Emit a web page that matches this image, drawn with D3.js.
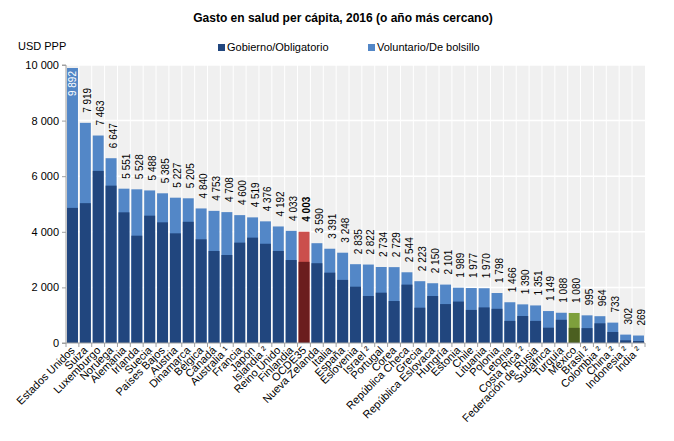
<!DOCTYPE html>
<html>
<head>
<meta charset="utf-8">
<script src="https://cdn.jsdelivr.net/npm/d3@7"></script>
<style>
  body { margin: 0; background: #fff; }
  text { font-family: "Liberation Sans", Arial, sans-serif; }
</style>
</head>
<body>
<script>
const WIDTH = 674
const HEIGHT = 441

const PAISES = [
    "Estados Unidos", "Suiza", "Luxemburgo", "Noruega", "Alemania", "Irlanda", "Suecia",
    "Países Bajos", "Austria", "Dinamarca", "Bélgica", "Canadá", "Australia ¹", "Francia",
    "Japón", "Islandia ²", "Reino Unido", "Finlandia", "OCDE35", "Nueva Zelanda", "Italia",
    "España", "Eslovenia", "Israel ²", "Portugal", "Corea", "República Checa", "Grecia",
    "República Eslovaca", "Hungría", "Estonia", "Chile", "Lituania", "Polonia", "Letonia",
    "Costa Rica ²", "Federación de Rusia", "Sudáfrica", "Turquía", "México", "Brasil ²",
    "Colombia ²", "China ²", "Indonesia ²", "India ²"
]

// total per capita
const TOTAL = [
    9892, 7919, 7463, 6647, 5551, 5528, 5488, 5385, 5227, 5205, 4840, 4753, 4708, 4600,
    4519, 4376, 4192, 4033, 4003, 3590, 3391, 3248, 2835, 2822, 2734, 2729, 2544, 2223,
    2150, 2101, 1989, 1977, 1970, 1798, 1466, 1390, 1351, 1149, 1088, 1080, 995, 964,
    733, 302, 269
]

// government / compulsory part
const GOBIERNO = [
    4860, 5030, 6190, 5660, 4700, 3860, 4580, 4340, 3945, 4360, 3730, 3310, 3165, 3610,
    3790, 3570, 3310, 2985, 2920, 2870, 2530, 2270, 2025, 1690, 1810, 1510, 2100, 1270,
    1690, 1400, 1490, 1190, 1280, 1230, 795, 971, 795, 550, 835, 545, 535, 708,
    396, 96, 72
]

const Y_TICKS = [0, 2000, 4000, 6000, 8000, 10000]

const SERIES = ["Gobierno/Obligatorio", "Voluntario/De bolsillo"]

const DARK = '#21467e'
const LIGHT = '#5387c7'
const COLORS = {
    "OCDE35": ['#6b1d1e', '#cb4f4c'],
    "México": ['#4b5f20', '#7ea03c']
}

const fmt = v => d3.format(',')(v).replace(/,/g, ' ')

const LEFT = 66
const RIGHT = 645
const TOP = 65
const BOTTOM = 343

const svg = d3.select('body')
    .append('svg')
    .attr('width', WIDTH)
    .attr('height', HEIGHT)

const xScale = d3.scaleBand()
    .domain(PAISES)
    .range([LEFT, RIGHT])
    .paddingInner(0.15)
    .paddingOuter(0.08)

const yScale = d3.scaleLinear()
    .domain([0, 10000])
    .range([BOTTOM, TOP])

// plot background
svg.append('rect')
    .attr('x', LEFT)
    .attr('y', TOP)
    .attr('width', RIGHT - LEFT)
    .attr('height', BOTTOM - TOP)
    .attr('fill', '#f0f0f0')

const step = xScale.step()
const bounds = PAISES.map((p, i) => LEFT + i * step).concat([RIGHT])

svg.append('g')
    .selectAll('line')
    .data(bounds.slice(1, -1))
    .enter()
    .append('line')
    .attr('x1', d => d)
    .attr('x2', d => d)
    .attr('y1', TOP)
    .attr('y2', BOTTOM)
    .attr('stroke', '#fff')
    .attr('stroke-width', 1)

svg.append('g')
    .selectAll('line')
    .data(Y_TICKS.slice(1))
    .enter()
    .append('line')
    .attr('x1', LEFT)
    .attr('x2', RIGHT)
    .attr('y1', d => yScale(d))
    .attr('y2', d => yScale(d))
    .attr('stroke', '#fff')
    .attr('stroke-width', 1.5)

// bars
const bars = svg.append('g')

bars.selectAll('rect.total')
    .data(PAISES)
    .enter()
    .append('rect')
    .attr('class', 'total')
    .attr('x', d => xScale(d))
    .attr('width', xScale.bandwidth())
    .attr('y', (d, i) => yScale(TOTAL[i]))
    .attr('height', (d, i) => BOTTOM - yScale(TOTAL[i]))
    .attr('fill', d => COLORS[d] ? COLORS[d][1] : LIGHT)

bars.selectAll('rect.gob')
    .data(PAISES)
    .enter()
    .append('rect')
    .attr('class', 'gob')
    .attr('x', d => xScale(d))
    .attr('width', xScale.bandwidth())
    .attr('y', (d, i) => yScale(GOBIERNO[i]))
    .attr('height', (d, i) => BOTTOM - yScale(GOBIERNO[i]))
    .attr('fill', d => COLORS[d] ? COLORS[d][0] : DARK)

// value labels
svg.append('g')
    .selectAll('text')
    .data(PAISES)
    .enter()
    .append('text')
    .text((d, i) => fmt(TOTAL[i]))
    .attr('transform', (d, i) => {
        const c = xScale(d) + xScale.bandwidth() / 2
        const x = i === 0 ? c + 3.5 : c + 6
        const y = i === 0 ? yScale(TOTAL[i]) + 3 : yScale(TOTAL[i]) - 10
        return `translate(${x},${y}) rotate(-90)`
    })
    .attr('text-anchor', (d, i) => i === 0 ? 'end' : 'start')
    .attr('font-size', 10)
    .attr('font-weight', d => d === 'OCDE35' ? 'bold' : 'normal')
    .attr('fill', (d, i) => i === 0 ? '#fff' : '#000')

// y axis
const yAxis = d3.axisLeft(yScale)
    .tickValues(Y_TICKS)
    .tickSize(4)
    .tickFormat(fmt)

const gY = svg.append('g')
    .attr('transform', `translate(${LEFT},0)`)
    .call(yAxis)
gY.select('.domain').attr('stroke', '#a0a0a0').attr('d', `M-4,${TOP}H0V${BOTTOM}H-4`)
gY.selectAll('.tick line').attr('stroke', '#a0a0a0')
gY.selectAll('.tick text')
    .attr('font-size', 11)
    .attr('font-family', '"Liberation Sans", Arial, sans-serif')
    .attr('fill', '#000')
    .attr('x', -7)

// x axis
svg.append('line')
    .attr('x1', LEFT)
    .attr('x2', RIGHT)
    .attr('y1', BOTTOM)
    .attr('y2', BOTTOM)
    .attr('stroke', '#a0a0a0')

svg.append('g')
    .selectAll('line')
    .data(bounds)
    .enter()
    .append('line')
    .attr('x1', d => d)
    .attr('x2', d => d)
    .attr('y1', BOTTOM)
    .attr('y2', BOTTOM + 4)
    .attr('stroke', '#a0a0a0')

svg.append('g')
    .selectAll('text')
    .data(PAISES)
    .enter()
    .append('text')
    .text(d => d)
    .attr('transform', d => `translate(${xScale(d) + xScale.bandwidth() / 2 + 3},${BOTTOM + 8}) rotate(-45)`)
    .attr('text-anchor', 'end')
    .attr('font-size', 11)
    .attr('fill', '#000')

// title and unit
svg.append('text')
    .text('Gasto en salud per cápita, 2016 (o año más cercano)')
    .attr('x', 343)
    .attr('y', 22)
    .attr('text-anchor', 'middle')
    .attr('font-size', 12)
    .attr('font-weight', 'bold')

svg.append('text')
    .text('USD PPP')
    .attr('x', 18)
    .attr('y', 50)
    .attr('font-size', 11)

// legend
const legend = svg.append('g')
    .selectAll('g')
    .data(SERIES)
    .enter()
    .append('g')
    .attr('transform', (d, i) => `translate(${i === 0 ? 218 : 368},51)`)

legend.append('rect')
    .attr('x', 0)
    .attr('y', -7)
    .attr('width', 7)
    .attr('height', 7)
    .attr('fill', (d, i) => i === 0 ? DARK : LIGHT)

legend.append('text')
    .text(d => d)
    .attr('x', 9)
    .attr('y', 0)
    .attr('font-size', 11)
</script>
</body>
</html>
